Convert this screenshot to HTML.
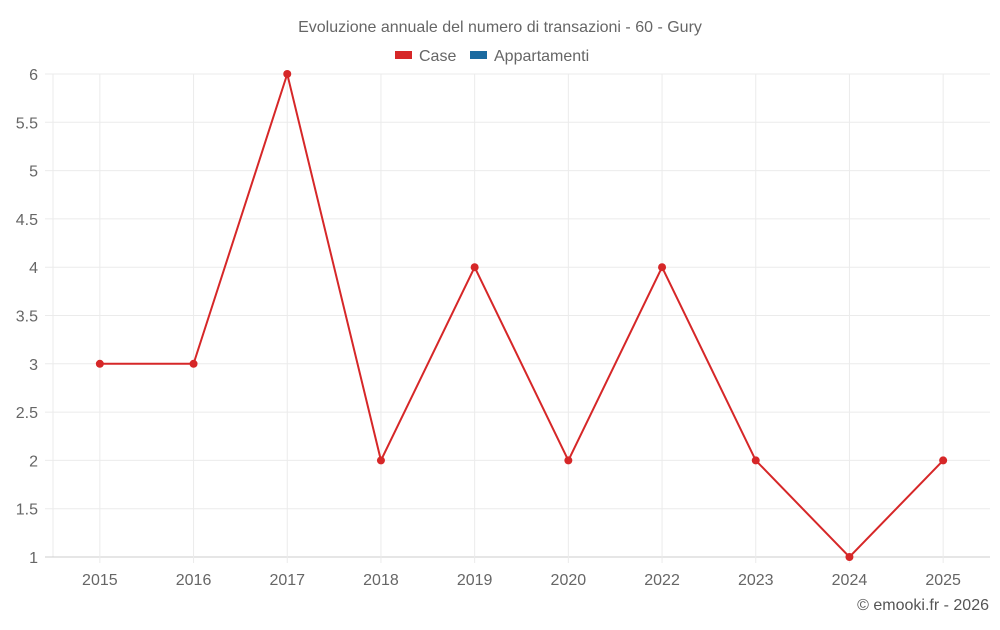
<!DOCTYPE html>
<html><head><meta charset="utf-8"><style>
body{margin:0;background:#fff;font-family:"Liberation Sans",sans-serif;}
svg text{font-family:"Liberation Sans",sans-serif;}
</style></head><body>
<svg id="chart" width="1000" height="625">
<text x="500" y="32" text-anchor="middle" font-size="16" fill="#666">Evoluzione annuale del numero di transazioni - 60 - Gury</text>
<g>
<g><rect x="395" y="51" width="17" height="8" fill="#d62728"/><text x="419" y="61" font-size="16" fill="#666">Case</text></g>
<g><rect x="470" y="51" width="17" height="8" fill="#1a6aa0"/><text x="494" y="61" font-size="16" fill="#666">Appartamenti</text></g>
</g>
<g id="grid"></g>
<g id="axes"></g>
<g id="series"></g>
<text x="989" y="610" text-anchor="end" font-size="16" fill="#555">© emooki.fr - 2026</text>
</svg>
<script>
const categories=["2015","2016","2017","2018","2019","2020","2022","2023","2024","2025"];
const caseValues=[3,3,6,2,4,2,4,2,1,2];
const yTicks=[1,1.5,2,2.5,3,3.5,4,4.5,5,5.5,6];
const L=53,R=990,T=74,B=557,yMin=1,yMax=6;
const NS="http://www.w3.org/2000/svg";
const bw=(R-L)/categories.length;
const xs=i=>L+bw*(i+0.5);
const ys=v=>B-(v-yMin)/(yMax-yMin)*(B-T);
function mk(tag,attrs,parent){const e=document.createElementNS(NS,tag);for(const k in attrs)e.setAttribute(k,attrs[k]);parent.appendChild(e);return e;}
const grid=document.getElementById('grid'),axes=document.getElementById('axes'),ser=document.getElementById('series');
const yl=mk('line',{x1:L,x2:L,y1:T,y2:B,stroke:'#ebebeb','stroke-width':1},grid);


yTicks.forEach(t=>{
 const y=ys(t);
 const l=mk('line',{x1:45,x2:R,y1:y,y2:y,stroke:t===yMin?'#ccc':'#ebebeb','stroke-width':1},grid);
 
 
 const tx=mk('text',{x:38,y:y+6,'text-anchor':'end','font-size':16,fill:'#666'},axes);
 tx.textContent=String(t);
 
 
});
categories.forEach((c,i)=>{
 const x=xs(i);
 const l=mk('line',{x1:x,x2:x,y1:T,y2:B+6,stroke:'#ebebeb','stroke-width':1},grid);
 
 
 const tx=mk('text',{x:x,y:585,'text-anchor':'middle','font-size':16,fill:'#666'},axes);
 tx.textContent=c;
 
 
});
const pl=mk('polyline',{points:caseValues.map((v,i)=>xs(i)+','+ys(v)).join(' '),fill:'none',stroke:'#d62728','stroke-width':2},ser);


caseValues.forEach((v,i)=>{
 const c=mk('circle',{cx:xs(i),cy:ys(v),r:4,fill:'#d62728'},ser);
 
 
});
</script>
</body></html>
